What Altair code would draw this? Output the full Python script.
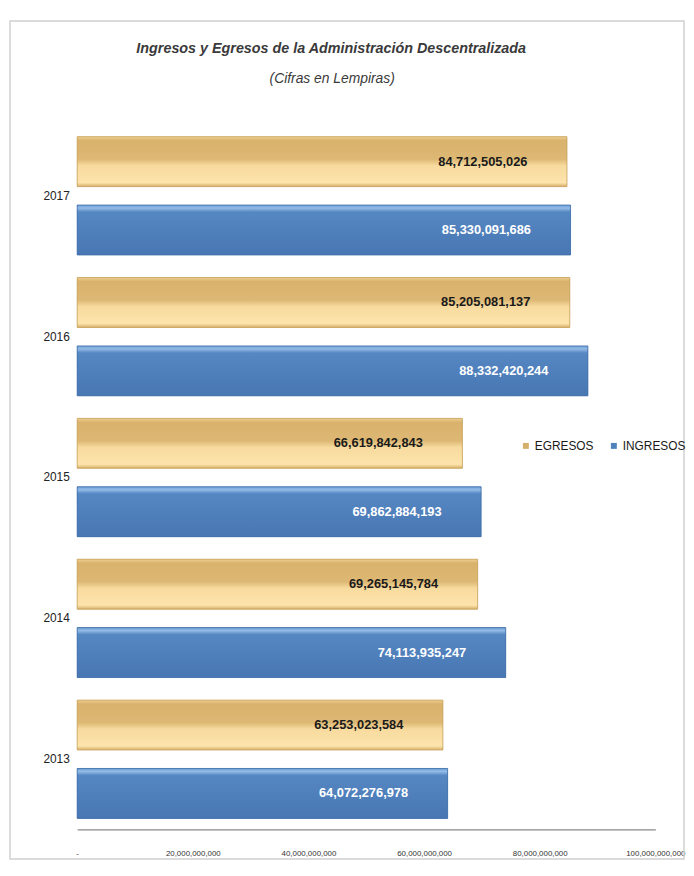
import altair as alt
import pandas as pd

years = ["2017", "2016", "2015", "2014", "2013"]
egresos = [84712505026, 85205081137, 66619842843, 69265145784, 63253023584]
ingresos = [85330091686, 88332420244, 69862884193, 74113935247, 64072276978]
series = ["EGRESOS", "INGRESOS"]
x_ticks = [0, 20000000000, 40000000000, 60000000000, 80000000000, 100000000000]
title_text = "Ingresos y Egresos de la Administración Descentralizada"
subtitle_text = "(Cifras en Lempiras)"

rows = []
for i, y in enumerate(years):
    rows.append({"year": y, "serie": "EGRESOS", "valor": egresos[i],
                 "etiqueta": f"{egresos[i]:,}"})
    rows.append({"year": y, "serie": "INGRESOS", "valor": ingresos[i],
                 "etiqueta": f"{ingresos[i]:,}"})
df = pd.DataFrame(rows)

FONT = "Liberation Sans, Arial, sans-serif"

gold_grad = {
    "gradient": "linear", "x1": 0, "y1": 0, "x2": 0, "y2": 1,
    "stops": [
        {"offset": 0.0, "color": "#EDCF92"},
        {"offset": 0.08, "color": "#D9B26C"},
        {"offset": 0.45, "color": "#DDB874"},
        {"offset": 0.58, "color": "#F7DA9E"},
        {"offset": 0.92, "color": "#FDE4AC"},
        {"offset": 1.0, "color": "#D6AF69"},
    ],
}
blue_grad = {
    "gradient": "linear", "x1": 0, "y1": 0, "x2": 0, "y2": 1,
    "stops": [
        {"offset": 0.0, "color": "#6E9ED6"},
        {"offset": 0.06, "color": "#93BBE6"},
        {"offset": 0.14, "color": "#5587C3"},
        {"offset": 1.0, "color": "#4877B3"},
    ],
}

y_enc = alt.Y("year:N", sort=years, title=None,
              scale=alt.Scale(paddingInner=0.16, paddingOuter=0.078),
              axis=alt.Axis(ticks=False, domain=False, labelPadding=8,
                            labelFont=FONT, labelFontSize=12, labelColor="#222222"))
yoff_enc = alt.YOffset("serie:N", sort=series,
                       scale=alt.Scale(paddingInner=0.27, paddingOuter=0))
x_enc = alt.X("valor:Q", title=None,
              scale=alt.Scale(domain=[0, 100000000000], nice=False),
              axis=alt.Axis(values=x_ticks, grid=False, ticks=False,
                            domainColor="#8a8a8a", domainWidth=1.5,
                            labelExpr="datum.value == 0 ? '-' : format(datum.value, ',')",
                            labelFont=FONT, labelFontSize=8, labelColor="#333333",
                            labelPadding=20, labelFlush=False))

base = alt.Chart(df)

solid = base.mark_bar().encode(
    x=x_enc, y=y_enc, yOffset=yoff_enc,
    color=alt.Color("serie:N", sort=series,
                    scale=alt.Scale(domain=series, range=["#D4B06A", "#4F81BD"]),
                    legend=alt.Legend(title=None, orient="none", legendX=448, legendY=318,
                                      direction="horizontal", symbolType="square",
                                      symbolSize=36, labelFont=FONT, labelFontSize=12,
                                      labelColor="#1a1a1a", columnPadding=14,
                                      labelOffset=3)),
)

gold = base.transform_filter(alt.datum.serie == "EGRESOS").mark_bar(
    fill=gold_grad, stroke="#C9A25E", strokeWidth=0.8).encode(
    x="valor:Q", y=alt.Y("year:N", sort=years), yOffset=alt.YOffset("serie:N", sort=series))

blue = base.transform_filter(alt.datum.serie == "INGRESOS").mark_bar(
    fill=blue_grad, stroke="#3F6FA8", strokeWidth=0.8).encode(
    x="valor:Q", y=alt.Y("year:N", sort=years), yOffset=alt.YOffset("serie:N", sort=series))

labels = base.mark_text(align="right", baseline="middle", dx=-40, font=FONT,
                        fontSize=13, fontWeight="bold").encode(
    x="valor:Q", y=alt.Y("year:N", sort=years), yOffset=alt.YOffset("serie:N", sort=series),
    text="etiqueta:N",
    color=alt.Color("serie:N", scale=alt.Scale(domain=series, range=["#1a1a1a", "#ffffff"]),
                    legend=None),
)

one = pd.DataFrame({"k": [0]})
frame = alt.Chart(one).mark_rect(
    filled=False, stroke="#d0d0d0", strokeWidth=1.5).encode(
    x=alt.value(-68), x2=alt.value(614), y=alt.value(-106), y2=alt.value(742))

title_mark = alt.Chart(one).mark_text(
    text=title_text, font=FONT, fontSize=14.5, fontStyle="italic", fontWeight="bold",
    color="#3a3a3a", align="center", baseline="alphabetic").encode(
    x=alt.value(257), y=alt.value(-74))

subtitle_mark = alt.Chart(one).mark_text(
    text=subtitle_text, font=FONT, fontSize=14, fontStyle="italic",
    color="#3a3a3a", align="center", baseline="alphabetic").encode(
    x=alt.value(258), y=alt.value(-43))

chart = alt.layer(frame, title_mark, subtitle_mark, solid, gold, blue, labels).resolve_scale(
    color="independent").properties(
    width=585, height=712,
    background="white",
    autosize=alt.AutoSizeParams(type="none"),
    padding={"left": 70, "top": 114, "right": 31, "bottom": 34},
).configure_view(strokeWidth=0, stroke="transparent")

chart.save("out.html", embed_options={"renderer": "svg", "actions": False})
